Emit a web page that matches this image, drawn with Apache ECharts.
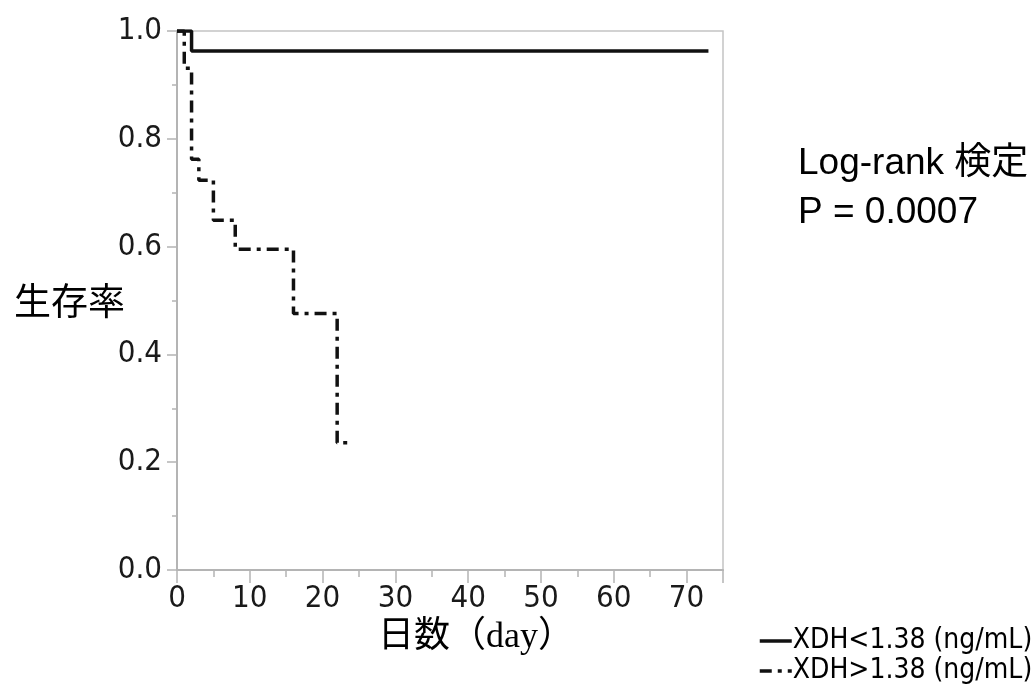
<!DOCTYPE html>
<html>
<head>
<meta charset="utf-8">
<script src="https://cdn.jsdelivr.net/npm/echarts@6/dist/echarts.min.js"></script>
<style>
html,body{margin:0;padding:0;background:#fff;}
#chart{width:1035px;height:696px;}
</style>
</head>
<body>
<div id="chart"></div>
<script>
// ---- data ----
const lowDays = [0, 2, 73];
const lowSurv = [1.0, 0.963, 0.963];
const highDays = [0, 1, 2, 3, 5, 8, 16, 22, 24];
const highSurv = [1.0, 0.931, 0.762, 0.723, 0.649, 0.595, 0.476, 0.236, 0.236];
const seriesNames = ['XDH<1.38 (ng/mL)', 'XDH>1.38 (ng/mL)'];
const yTicks = [0, 0.2, 0.4, 0.6, 0.8, 1.0];
const xTicks = [0, 10, 20, 30, 40, 50, 60, 70];
const annotation = ['Log-rank 検定', 'P = 0.0007'];
const xTitle = '日数（day）';
const yTitle = '生存率';

const lowData = lowDays.map((d, i) => [d, lowSurv[i]]);
const highData = highDays.map((d, i) => [d, highSurv[i]]);

const tickFont = "'DejaVu Sans Condensed', sans-serif";
const axisGray = '#b4b4b4';

const chart = echarts.init(document.getElementById('chart'));
chart.setOption({
  animation: false,
  backgroundColor: '#fff',
  grid: {
    left: 177, top: 31, right: 312, bottom: 126,
    show: true, borderColor: '#c4c4c4', borderWidth: 1.5, backgroundColor: 'transparent'
  },
  xAxis: {
    type: 'value', min: 0, max: 75, interval: 10,
    name: xTitle, nameLocation: 'middle', nameGap: 50, nameMoveOverlap: false,
    nameTextStyle: { fontSize: 36, color: '#000', fontFamily: "'Liberation Serif', 'Noto Sans CJK JP', serif", padding: [0, 0, 0, 52] },
    axisLine: { lineStyle: { color: axisGray, width: 2 } },
    axisTick: { show: true, length: 13, lineStyle: { color: axisGray, width: 1.5 } },
    minorTick: { show: true, splitNumber: 2, length: 7, lineStyle: { color: axisGray, width: 1.5 } },
    splitLine: { show: false },
    axisLabel: {
      margin: 13, fontSize: 31, color: '#1a1a1a', fontFamily: tickFont,
      showMaxLabel: false,
      formatter: v => (xTicks.includes(v) ? String(v) : '')
    }
  },
  yAxis: {
    type: 'value', min: 0, max: 1, interval: 0.2,
    name: yTitle, nameLocation: 'middle', nameGap: 52, nameRotate: 0, nameMoveOverlap: false,
    nameTextStyle: { fontSize: 37, color: '#000', fontFamily: "'Noto Sans CJK JP', serif", align: 'right', verticalAlign: 'middle', padding: [26, 0, 0, 0] },
    axisLine: { lineStyle: { color: axisGray, width: 2 } },
    axisTick: { show: true, length: 10, lineStyle: { color: axisGray, width: 1.5 } },
    minorTick: { show: true, splitNumber: 2, length: 5, lineStyle: { color: axisGray, width: 1.5 } },
    splitLine: { show: false },
    axisLabel: {
      margin: 15, fontSize: 31, color: '#1a1a1a', fontFamily: tickFont,
      formatter: v => (yTicks.some(t => Math.abs(t - v) < 1e-9) ? v.toFixed(1) : '')
    }
  },
  legend: {
    orient: 'vertical', left: 753, top: 622,
    itemWidth: 32, itemHeight: 14, itemGap: 2,
    itemStyle: { opacity: 0 },
    lineStyle: { width: 3.5 },
    textStyle: { fontSize: 28, color: '#000', fontFamily: "'DejaVu Sans Condensed', sans-serif", padding: [0, 0, 0, -4], lineHeight: 28 },
    data: seriesNames
  },
  graphic: [
    { type: 'text', left: 798, top: 145, style: { text: annotation[0], fontSize: 37, fill: '#000', fontFamily: "'Liberation Sans', 'Noto Sans CJK JP', sans-serif" } },
    { type: 'text', left: 798, top: 194, style: { text: annotation[1], fontSize: 37, fill: '#000', fontFamily: "'Liberation Sans', sans-serif" } }
  ],
  series: [
    {
      name: seriesNames[0], type: 'line', step: 'end', data: lowData,
      symbol: 'none', showSymbol: false,
      lineStyle: { color: '#111', width: 3.5, type: 'solid' },
      itemStyle: { color: '#111' }
    },
    {
      name: seriesNames[1], type: 'line', step: 'end', data: highData,
      symbol: 'none', showSymbol: false,
      lineStyle: { color: '#111', width: 3.5, type: [12, 6, 4, 6] },
      itemStyle: { color: '#111' }
    }
  ]
});
</script>
</body>
</html>
